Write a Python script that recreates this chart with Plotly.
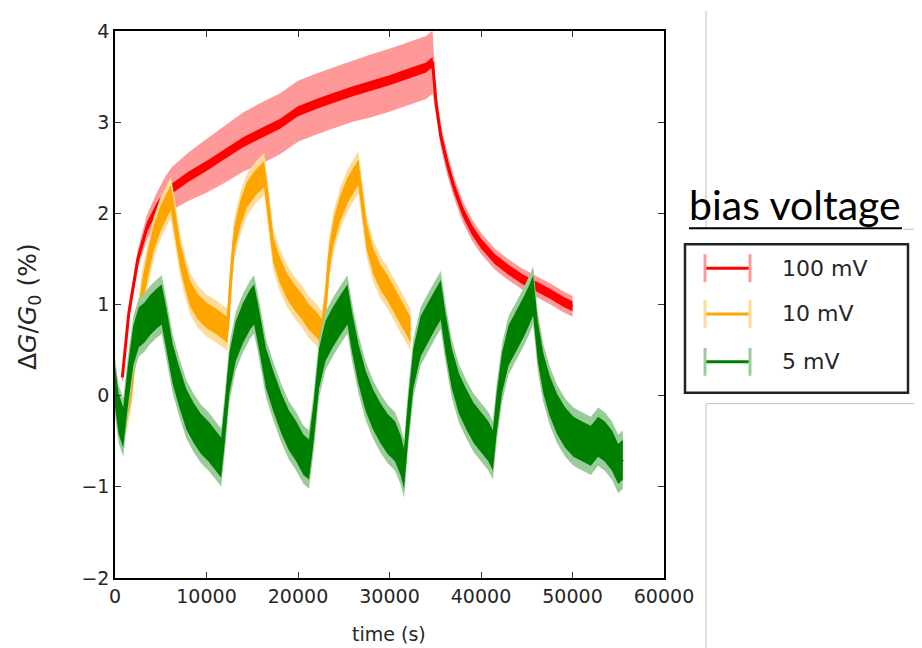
import plotly.graph_objects as go

# ---------------- data ----------------
t_100 = [800, 1500, 2500, 3500, 4500, 5500, 6200, 8000, 10000, 12000, 14000, 16000,
         18000, 20000, 22000, 24000, 26000, 28000, 30000, 32000, 34000, 34700,
         35100, 35600, 36300, 37000, 38000, 39000, 40000, 41500, 43000, 44500,
         46000, 47500, 49000, 50000]
g_100 = [0.2, 0.9, 1.5, 1.85, 2.05, 2.2, 2.27, 2.4, 2.52, 2.65, 2.78, 2.88,
         2.98, 3.12, 3.2, 3.27, 3.34, 3.4, 3.46, 3.53, 3.6, 3.66,
         3.2, 2.85, 2.55, 2.3, 2.02, 1.82, 1.67, 1.5, 1.38, 1.28,
         1.2, 1.12, 1.03, 0.98]
err_100 = [0.02, 0.03, 0.05, 0.08, 0.11, 0.15, 0.18, 0.21, 0.24, 0.26, 0.27, 0.28,
           0.28, 0.28, 0.28, 0.28, 0.28, 0.29, 0.29, 0.29, 0.29, 0.29,
           0.08, 0.07, 0.07, 0.06, 0.06, 0.06, 0.06, 0.06, 0.06, 0.06,
           0.06, 0.06, 0.06, 0.06]
spread_100 = 0.055

t_10 = [1200, 1800, 2400, 3000, 3600, 4200, 5000, 5800, 6100, 6500, 7100, 7700, 8200,
        9000, 10000, 11000, 11800, 12300, 12600, 13000, 13700, 14400, 15300, 16300,
        16600, 17300, 18000, 18800, 19600, 20400, 21200, 22000, 22600, 23000, 23400,
        23900, 24600, 25400, 26600, 26900, 27500, 28200, 29000, 29800, 30500, 31200,
        31900, 32300]
g_10 = [-0.2, 0.1, 0.7, 1.15, 1.45, 1.72, 1.95, 2.12, 2.17, 1.95, 1.55, 1.3, 1.12,
        0.98, 0.88, 0.82, 0.76, 0.72, 1.2, 1.7, 2.0, 2.2, 2.33, 2.43,
        2.2, 1.6, 1.38, 1.2, 1.08, 0.98, 0.86, 0.78, 0.7, 1.0, 1.5,
        1.8, 2.05, 2.25, 2.45, 2.2, 1.75, 1.48, 1.3, 1.18, 1.05, 0.92,
        0.8, 0.72]
err_10 = 0.09
spread_10 = 0.14

t_5 = [0, 400, 900, 1400, 2000, 2600, 3200, 3800, 4500, 5100, 5600, 6300, 7000, 7800,
       8600, 9400, 10200, 11000, 11600, 12000, 12500, 13200, 14000, 14800, 15200,
       15700, 16500, 17300, 18200, 19000, 19800, 20600, 21200, 21700, 22300, 23000,
       23800, 24600, 25400, 25900, 26600, 27400, 28200, 29000, 29800, 30600, 31200,
       31600, 32000, 32600, 33400, 34200, 35000, 35600, 36100, 36800, 37600, 38400,
       39200, 40000, 40800, 41300, 41700, 42300, 43000, 43800, 44600, 45300, 45700,
       46200, 46800, 47500, 48300, 49200, 50100, 51000, 52000, 52800, 53500, 54300,
       55000, 55500]
g_5 = [0.1, -0.2, -0.35, 0.1, 0.55, 0.75, 0.8, 0.88, 0.95, 1.0, 0.75, 0.35, 0.1, -0.15,
       -0.3, -0.42, -0.5, -0.6, -0.68, -0.3, 0.25, 0.6, 0.8, 0.95, 1.0,
       0.75, 0.3, 0.05, -0.2, -0.38, -0.5, -0.65, -0.7, -0.3, 0.3, 0.6,
       0.75, 0.88, 1.0, 0.7, 0.35, 0.05, -0.15, -0.3, -0.42, -0.5, -0.65,
       -0.8, -0.3, 0.3, 0.65, 0.8, 0.95, 1.05, 0.7, 0.3, 0.02, -0.15,
       -0.3, -0.4, -0.5, -0.6, -0.2, 0.25, 0.55, 0.7, 0.85, 1.0, 1.1,
       0.6, 0.25, 0.0, -0.2, -0.35, -0.45, -0.5, -0.55, -0.45, -0.5, -0.6,
       -0.75, -0.7]
err_5 = 0.1
spread_5 = 0.22

labels = ["100 mV", "10 mV", "5 mV"]
dark = ["#FF0000", "#FFA500", "#008000"]
light = ["#FF9999", "#FFDB99", "#99CC99"]

series = [
    (t_100, g_100, err_100, spread_100),
    (t_10, g_10, [err_10] * len(t_10), spread_10),
    (t_5, g_5, [err_5] * len(t_5), spread_5),
]

fig = go.Figure()


def band(t, lo, hi, color):
    return go.Scatter(x=list(t) + list(t)[::-1], y=list(hi) + list(lo)[::-1],
                      fill="toself", fillcolor=color, mode="lines",
                      line=dict(width=0, color=color), hoverinfo="skip",
                      showlegend=False)


for (t, g, e, s), dc, lc in zip(series, dark, light):
    outer_hi = [v + s + ee for v, ee in zip(g, e)]
    outer_lo = [v - s - ee for v, ee in zip(g, e)]
    inner_hi = [v + s for v in g]
    inner_lo = [v - s for v in g]
    fig.add_trace(band(t, outer_lo, outer_hi, lc))
    fig.add_trace(band(t, inner_lo, inner_hi, dc))
    fig.add_trace(go.Scatter(x=t, y=g, mode="lines", line=dict(color=dc, width=3),
                             showlegend=False, hoverinfo="skip"))

# ---------------- layout ----------------
# the page body adds an 8px offset; target screen coords are corrected here
OFF = 8
L, R, T, B = 115 - OFF, 664 - OFF, 29 - OFF, 578 - OFF
W = R - L
H = B - T


def px(xp):
    return (xp - OFF - L) / W


def py(yp):
    return (B - (yp - OFF)) / H


tickfont = dict(family="DejaVu Sans", size=19, color="#262626")
axis_common = dict(showline=True, linecolor="black", linewidth=1.5, mirror="ticks",
                   ticks="inside", ticklen=6, tickwidth=1, tickcolor="#333",
                   showgrid=False, zeroline=False, tickfont=tickfont)

fig.update_layout(
    width=922, height=648,
    margin=dict(l=L, r=922 - R, t=T, b=648 - B),
    paper_bgcolor="white", plot_bgcolor="white",
    showlegend=False,
    xaxis=dict(range=[0, 60000], tickvals=[0, 10000, 20000, 30000, 40000, 50000, 60000],
               ticktext=["0", "10000", "20000", "30000", "40000", "50000", "60000"],
               **axis_common),
    yaxis=dict(range=[-2, 4], tickvals=[-2, -1, 0, 1, 2, 3, 4],
               ticktext=["\u22122", "\u22121", "0", "1", "2", "3", "4"],
               **axis_common),
)

shapes = []
annotations = []

# axis titles
annotations.append(dict(xref="paper", yref="paper", x=px(389), y=py(634),
                        xanchor="center", yanchor="middle",
                        text="time (s)", showarrow=False,
                        font=dict(family="DejaVu Sans", size=19, color="#262626")))
annotations.append(dict(xref="paper", yref="paper", x=px(29), y=py(306),
                        xanchor="center", yanchor="middle",
                        text="\u0394<i>G</i>/<i>G</i><sub>0</sub> (%)", textangle=-90,
                        showarrow=False,
                        font=dict(family="DejaVu Sans", size=25, color="#262626")))

# slide artefact lines
gray = dict(color="#BFBFBF", width=1)
shapes += [
    dict(type="line", xref="paper", yref="paper", x0=px(706), x1=px(706), y0=py(9), y1=py(228), line=gray),
    dict(type="line", xref="paper", yref="paper", x0=px(903), x1=px(930), y0=py(228), y1=py(228), line=gray),
    dict(type="line", xref="paper", yref="paper", x0=px(706), x1=px(930), y0=py(403), y1=py(403), line=gray),
    dict(type="line", xref="paper", yref="paper", x0=px(706), x1=px(706), y0=py(403), y1=py(656), line=gray),
]

# legend title
annotations.append(dict(xref="paper", yref="paper", x=px(687), y=py(230), xanchor="left",
                        yanchor="bottom", text="bias voltage", showarrow=False,
                        font=dict(family="Lato", size=41, color="black")))
shapes.append(dict(type="line", xref="paper", yref="paper", x0=px(689), x1=px(902),
                   y0=py(227), y1=py(227), line=dict(color="black", width=2)))

# legend box
shapes.append(dict(type="rect", xref="paper", yref="paper", x0=px(685), x1=px(908),
                   y0=py(243), y1=py(392), line=dict(color="#222", width=2.5),
                   fillcolor="white", layer="above"))
rows = [267, 313, 361]
for yr, lab, dc, lc in zip(rows, labels, dark, light):
    shapes.append(dict(type="line", xref="paper", yref="paper", x0=px(705), x1=px(750),
                       y0=py(yr), y1=py(yr), line=dict(color=dc, width=3), layer="above"))
    for xc in (705, 750):
        shapes.append(dict(type="line", xref="paper", yref="paper", x0=px(xc), x1=px(xc),
                           y0=py(yr - 14), y1=py(yr + 14), line=dict(color=lc, width=3),
                           layer="above"))
    annotations.append(dict(xref="paper", yref="paper", x=px(780), y=py(yr), xanchor="left",
                            yanchor="middle", text=lab, showarrow=False,
                            font=dict(family="DejaVu Sans", size=22, color="#262626")))

fig.update_layout(shapes=shapes, annotations=annotations)
fig.write_html("out.html")
